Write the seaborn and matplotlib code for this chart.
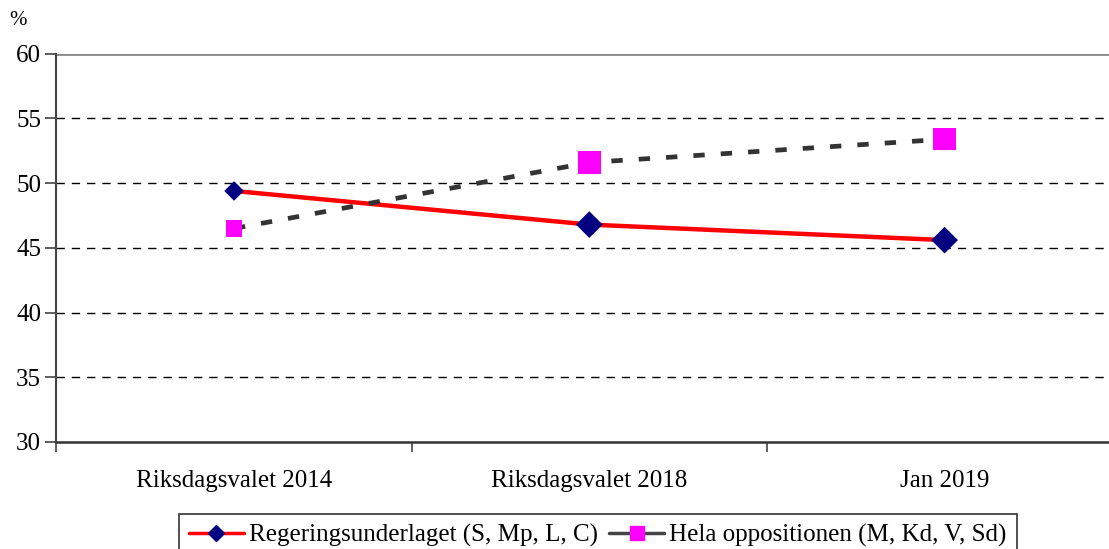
import pandas as pd
import matplotlib.pyplot as plt
import seaborn as sns
from matplotlib.ticker import FixedLocator
from matplotlib.lines import Line2D

# Data
kategorier = ["Riksdagsvalet 2014", "Riksdagsvalet 2018", "Jan 2019"]
regering = [49.4, 46.8, 45.6]
opposition = [46.5, 51.6, 53.4]
namn_reg = "Regeringsunderlaget (S, Mp, L, C)"
namn_opp = "Hela oppositionen (M, Kd, V, Sd)"

df = pd.DataFrame({"period": kategorier, "reg": regering, "opp": opposition})

# first marker is drawn smaller in the original
storlek_romb = [100, 185, 185]
storlek_kvadrat = [140, 260, 260]

sns.set_style("white")
plt.rcParams["font.family"] = ["Liberation Serif", "DejaVu Serif"]
plt.rcParams["text.color"] = "black"
plt.rcParams["xtick.color"] = "black"
plt.rcParams["ytick.color"] = "black"

fig = plt.figure(figsize=(11.09, 5.49), dpi=100)
ax = fig.add_axes([0.0509, 0.195, 0.961, 0.707])

sns.lineplot(data=df, x="period", y="reg", ax=ax, color="#ff0000", lw=3.2,
             sort=False, legend=False)
sns.lineplot(data=df, x="period", y="opp", ax=ax, color="#333333", lw=3.4,
             sort=False, legend=False)
ax.lines[1].set_dashes((2.4, 3.4))

sns.scatterplot(data=df, x="period", y="reg", ax=ax, marker="D",
                s=storlek_romb, color="#000080", edgecolor="#000080",
                linewidth=0, zorder=5, legend=False)
sns.scatterplot(data=df, x="period", y="opp", ax=ax, marker="s",
                s=storlek_kvadrat, color="#ff00ff", edgecolor="#ff00ff",
                linewidth=0, zorder=5, legend=False)

ax.set_xlim(-0.5, 2.5)
ax.set_ylim(30, 60)
ax.set_yticks(range(30, 61, 5))
ax.set_xlabel("")
ax.set_ylabel("")

# gridlines
for y in range(35, 60, 5):
    ax.axhline(y, color="black", lw=1, dashes=(6, 5), zorder=0)
ax.axhline(60, color="#888888", lw=2, zorder=0)

ax.xaxis.set_minor_locator(FixedLocator([-0.5, 0.5, 1.5, 2.5]))
ax.tick_params(axis="x", which="major", length=0, pad=20, labelsize=18)
ax.tick_params(axis="x", which="minor", length=7, width=1.2, color="#444444",
               direction="out", bottom=True)
ax.tick_params(axis="y", length=8, width=1.2, color="#444444", direction="out",
               left=True, labelsize=18, pad=3)

for s in ["top", "right"]:
    ax.spines[s].set_visible(False)
ax.spines["left"].set_color("#444444")
ax.spines["left"].set_linewidth(1.5)
ax.spines["bottom"].set_color("#333333")
ax.spines["bottom"].set_linewidth(1.8)

fig.text(0.008, 0.962, "%", fontsize=15, ha="left", va="center")

handles = [
    Line2D([], [], color="#ff0000", lw=2.5, marker="D", markersize=8.5,
           markerfacecolor="#000080", markeredgecolor="#000080"),
    Line2D([], [], color="#444444", lw=2.5, marker="s", markersize=10,
           markerfacecolor="#ff00ff", markeredgecolor="#ff00ff"),
]
leg = ax.legend(handles, [namn_reg, namn_opp], loc="upper center",
                bbox_to_anchor=(0.539, 1 - 514 / 549),
                bbox_transform=fig.transFigure, ncol=2, fontsize=18,
                frameon=True, fancybox=False, edgecolor="black",
                handlelength=2.2, columnspacing=0.45, handletextpad=0.2,
                borderpad=0.4, borderaxespad=0)
leg.get_frame().set_linewidth(1.2)

fig.savefig("out.png", dpi=100)
